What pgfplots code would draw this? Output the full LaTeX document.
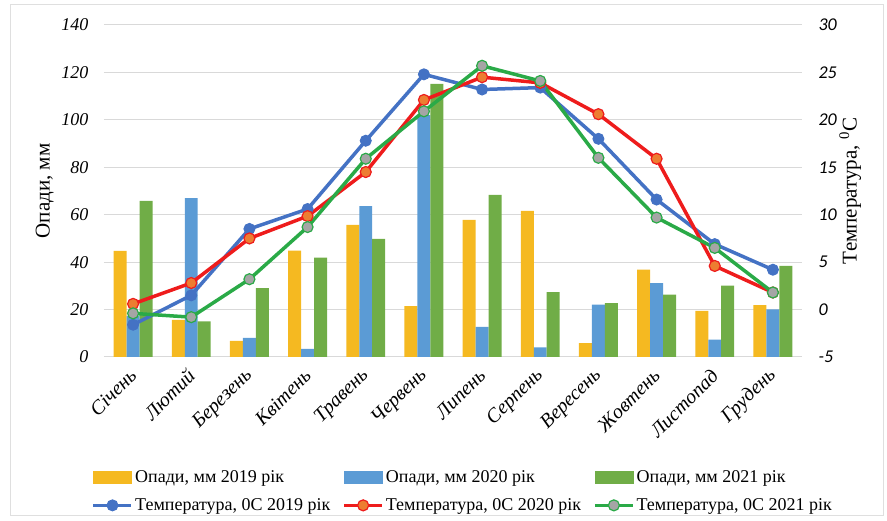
\documentclass[border=0pt]{standalone}
\usepackage{fontspec}
\setmainfont{Liberation Serif}
\newfontfamily\calibri{Carlito}
\usepackage{pgfplots}
\pgfplotsset{compat=1.18}
\usepackage{pgfplotstable}

\definecolor{cyel}{HTML}{F5B921}
\definecolor{cblu}{HTML}{5B9BD5}
\definecolor{cgrn}{HTML}{70AD47}
\definecolor{lblu}{HTML}{4472C4}
\definecolor{lred}{HTML}{EE1C1C}
\definecolor{lorg}{HTML}{ED7D31}
\definecolor{lgrn}{HTML}{2AAA47}
\definecolor{lgry}{HTML}{A5A5A5}

\pgfplotstableread{
x p19 p20 p21 t19 t20 t21
0 44.7 17.3 65.8 -1.6 0.6 -0.4
1 15.6 67.0 15.0 1.5 2.8 -0.8
2 6.8 8.1 29.0 8.5 7.5 3.2
3 44.9 3.4 41.9 10.6 9.85 8.7
4 55.7 63.6 49.8 17.8 14.5 15.9
5 21.4 102.0 115.2 24.8 22.1 20.9
6 57.8 12.7 68.4 23.2 24.5 25.7
7 61.6 4.1 27.4 23.4 23.9 24.1
8 5.9 22.1 22.7 18.0 20.6 16.0
9 36.8 31.2 26.3 11.6 15.9 9.7
10 19.5 7.3 30.1 6.9 4.6 6.5
11 21.9 20.1 38.4 4.2 1.8 1.8
}\data

\begin{document}
\begin{tikzpicture}
\useasboundingbox (0pt,0pt) rectangle (887pt,521pt);
\draw[gray!25, line width=1pt] (10pt,5pt) rectangle (883pt,516pt);
\begin{axis}[
  at={(104pt,164pt)}, anchor=south west,
  scale only axis, width=698pt, height=332pt,
  xmin=-0.5, xmax=11.5, ymin=0, ymax=140,
  ytick={0,20,...,140},
  xtick={0,...,11},
  xticklabels={Січень,Лютий,Березень,Квітень,Травень,Червень,Липень,Серпень,Вересень,Жовтень,Листопад,Грудень},
  axis line style={draw=none},
  major tick length=0pt,
  ymajorgrids,
  grid style={draw=gray!30, line width=1pt},
  /pgf/number format/assume math mode=true,
  yticklabel style={font=\fontsize{18}{18}\selectfont\itshape, xshift=-12pt},
  xticklabel style={font=\fontsize{20}{20}\selectfont\itshape, rotate=45, anchor=east, xshift=-7.5pt, yshift=-11pt},
  ylabel={Опади, мм},
  ylabel style={at={(axis description cs:-0.085,0.5)}, anchor=center, rotate=0, font=\fontsize{21}{21}\selectfont},
]
\addplot[ybar, bar width=0.223, bar shift=-0.223, fill=cyel, draw=none] table[x=x,y=p19]{\data};
\addplot[ybar, bar width=0.223, bar shift=0, fill=cblu, draw=none] table[x=x,y=p20]{\data};
\addplot[ybar, bar width=0.223, bar shift=0.223, fill=cgrn, draw=none] table[x=x,y=p21]{\data};
\end{axis}
\begin{axis}[
  at={(104pt,164pt)}, anchor=south west,
  scale only axis, width=698pt, height=332pt,
  xmin=-0.5, xmax=11.5, ymin=-5, ymax=30,
  ytick={-5,0,...,30},
  yticklabel pos=right,
  hide x axis,
  axis line style={draw=none},
  major tick length=0pt,
  /pgf/number format/assume math mode=true,
  yticklabel style={font=\calibri\fontsize{18}{18}\selectfont\itshape, xshift=13pt},
  ylabel={Температура, \textsuperscript{0}C},
  ylabel style={at={(axis description cs:1.069,0.5)}, anchor=center, rotate=0, font=\fontsize{21}{21}\selectfont},
  legend columns=3,
  legend style={at={(0.514,-0.404)}, anchor=center, draw=none, fill=none,
    font=\fontsize{18}{18}\selectfont,
    /tikz/every even column/.append style={column sep=10pt},
    row sep=11pt},
  legend cell align=left,
  legend image code/.code={\draw[mark repeat=2,mark phase=2,#1] plot coordinates {(0pt,0pt)(19pt,0pt)(38pt,0pt)};},
]
\addlegendimage{legend image code/.code={\fill[cyel] (0pt,-6pt) rectangle (38pt,6pt);}}
\addlegendentry{Опади, мм 2019 рік}
\addlegendimage{legend image code/.code={\fill[cblu] (0pt,-6pt) rectangle (38pt,6pt);}}
\addlegendentry{Опади, мм 2020 рік}
\addlegendimage{legend image code/.code={\fill[cgrn] (0pt,-6pt) rectangle (38pt,6pt);}}
\addlegendentry{Опади, мм 2021 рік}
\addplot[lblu, line width=3.5pt, mark=*, mark size=5.5pt, mark options={fill=lblu, draw=lblu, line width=1pt}] table[x=x,y=t19]{\data};
\addlegendentry{Температура, 0С 2019 рік}
\addplot[lred, line width=3.5pt, mark=*, mark size=5.5pt, mark options={fill=lorg, draw=lred, line width=1.2pt}] table[x=x,y=t20]{\data};
\addlegendentry{Температура, 0С 2020 рік}
\addplot[lgrn, line width=3.5pt, mark=*, mark size=5.5pt, mark options={fill=lgry, draw=lgrn, line width=1.2pt}] table[x=x,y=t21]{\data};
\addlegendentry{Температура, 0С 2021 рік}
\end{axis}
\end{tikzpicture}
\end{document}
